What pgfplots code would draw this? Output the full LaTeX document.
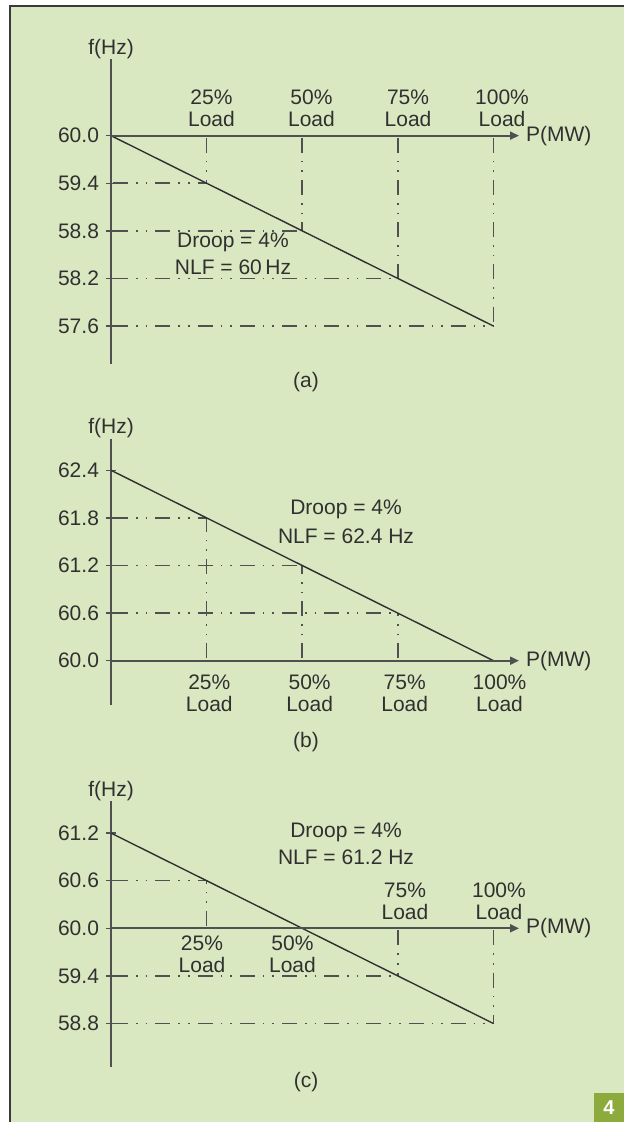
\documentclass[border=0pt]{standalone}
\usepackage{pgfplots}
\pgfplotsset{compat=1.18}
\usepackage{fontspec}
\setmainfont{Liberation Sans}
\usetikzlibrary{arrows.meta}
\definecolor{bg}{HTML}{DAE8C2}
\definecolor{frame}{HTML}{3A3A3A}
\definecolor{ink}{HTML}{303030}
\definecolor{axisgray}{HTML}{505050}
\definecolor{boxgreen}{HTML}{8CAB3C}
\newcommand{\lblfont}{\fontsize{10.5}{11}\selectfont}
\tikzset{
  lbl/.style={font=\lblfont, text=ink, align=center, inner sep=0pt},
  guide/.style={axisgray, line width=0.75pt, dash pattern=on 7.5pt off 4pt on 0.8pt off 4pt on 0.8pt off 4pt, dash phase=20pt},
  droop/.style={ink, line width=0.7pt},
}
\pgfplotsset{
  droopaxis/.style={
    x=1.912pt, y=39.667pt, anchor=south west,
    xmin=0, xmax=110,
    axis x line=none, axis y line=left,
    y axis line style={-, line width=0.9pt, color=axisgray},
    xtick=\empty,
    tick align=center, major tick length=5pt,
    tick style={axisgray, line width=0.7pt},
    yticklabel style={font=\lblfont, color=ink, /pgf/number format/.cd, fixed, fixed zerofill, precision=1, assume math mode=true},
    ylabel={f(Hz)},
    every axis y label/.style={at={(axis description cs:0,1)}, anchor=south, inner sep=0pt, font=\lblfont, color=ink},
    clip=false, no markers,
  },
}
\newcommand{\xaxisat}[1]{%
  \draw[axisgray, line width=0.9pt, -{Triangle[length=4.5pt,width=4pt]}] (axis cs:0,#1) -- (axis cs:106.7,#1);
  \node[font=\lblfont, text=ink, anchor=west] at (axis cs:106.7,#1) {P(MW)};
  \draw[axisgray, line width=0.7pt] (axis cs:25,#1) ++(0,-2.5pt) -- ++(0,5pt);
  \draw[axisgray, line width=0.7pt] (axis cs:50,#1) ++(0,-2.5pt) -- ++(0,5pt);
  \draw[axisgray, line width=0.7pt] (axis cs:75,#1) ++(0,-2.5pt) -- ++(0,5pt);
  \draw[axisgray, line width=0.7pt] (axis cs:100,#1) ++(0,-2.5pt) -- ++(0,5pt);
}
\begin{document}
\begin{tikzpicture}
\useasboundingbox (0,0) rectangle (312pt,-561pt);
\fill[white] (0,0) rectangle (312pt,-561pt);
\fill[bg] (5pt,-3pt) rectangle (312pt,-561pt);
\draw[frame, line width=1pt] (5pt,-561pt) -- (5pt,-3pt) -- (312pt,-3pt);
\fill[boxgreen] (297pt,-546.5pt) rectangle (312pt,-561pt);
\node[text=white, font=\bfseries\fontsize{10}{12}\selectfont] at (304.5pt,-553.75pt) {4};

% (a)
\begin{axis}[droopaxis, at={(55.5pt,-182pt)}, ymin=57.12, ymax=60.96,
  ytick={57.6,58.2,58.8,59.4,60.0}]
  \addplot[guide] coordinates {(0,59.4) (25,59.4)};
  \addplot[guide] coordinates {(0,58.8) (50,58.8)};
  \addplot[guide] coordinates {(0,58.2) (75,58.2)};
  \addplot[guide] coordinates {(0,57.6) (100,57.6)};
  \addplot[guide] coordinates {(25,60) (25,59.4)};
  \addplot[guide] coordinates {(50,60) (50,58.8)};
  \addplot[guide] coordinates {(75,60) (75,58.2)};
  \addplot[guide] coordinates {(100,60) (100,57.6)};
  \addplot[droop] coordinates {(0,60.0) (100,57.6)};
  \xaxisat{60}
  \node[lbl] at (axis cs:26.28,60.34) {25\%\\Load};
  \node[lbl] at (axis cs:52.43,60.34) {50\%\\Load};
  \node[lbl] at (axis cs:77.67,60.34) {75\%\\Load};
  \node[lbl] at (axis cs:102.25,60.34) {100\%\\Load};
  \node[lbl] at (axis cs:31.9,58.651) {Droop = 4\%};
  \node[lbl] at (axis cs:31.9,58.336) {NLF = 60\,Hz};
  \node[lbl] at (axis cs:51,56.899) {(a)};
\end{axis}

% (b)
\begin{axis}[droopaxis, at={(55.5pt,-352.5pt)}, ymin=59.44, ymax=62.80,
  ytick={60.0,60.6,61.2,61.8,62.4}]
  \addplot[guide] coordinates {(0,61.8) (25,61.8)};
  \addplot[guide] coordinates {(0,61.2) (50,61.2)};
  \addplot[guide] coordinates {(0,60.6) (75,60.6)};
  \addplot[guide] coordinates {(25,60) (25,61.8)};
  \addplot[guide] coordinates {(50,60) (50,61.2)};
  \addplot[guide] coordinates {(75,60) (75,60.6)};
  \addplot[droop] coordinates {(0,62.4) (100,60.0)};
  \xaxisat{60}
  \node[lbl] at (axis cs:25.71,59.584) {25\%\\Load};
  \node[lbl] at (axis cs:51.94,59.584) {50\%\\Load};
  \node[lbl] at (axis cs:76.8,59.584) {75\%\\Load};
  \node[lbl] at (axis cs:101.6,59.584) {100\%\\Load};
  \node[lbl] at (axis cs:61.45,61.903) {Droop = 4\%};
  \node[lbl] at (axis cs:61.45,61.563) {NLF = 62.4 Hz};
  \node[lbl] at (axis cs:51,58.979) {(b)};
\end{axis}

% (c)
\begin{axis}[droopaxis, at={(55.5pt,-533.5pt)}, ymin=58.25, ymax=61.60,
  ytick={58.8,59.4,60.0,60.6,61.2}]
  \addplot[guide] coordinates {(0,60.6) (25,60.6)};
  \addplot[guide] coordinates {(0,59.4) (75,59.4)};
  \addplot[guide] coordinates {(0,58.8) (100,58.8)};
  \addplot[guide] coordinates {(25,60) (25,60.6)};
  \addplot[guide] coordinates {(75,60) (75,59.4)};
  \addplot[guide] coordinates {(100,60) (100,58.8)};
  \addplot[droop] coordinates {(0,61.2) (100,58.8)};
  \xaxisat{60}
  \node[lbl] at (axis cs:23.8,59.676) {25\%\\Load};
  \node[lbl] at (axis cs:47.46,59.676) {50\%\\Load};
  \node[lbl] at (axis cs:76.88,60.344) {75\%\\Load};
  \node[lbl] at (axis cs:101.46,60.344) {100\%\\Load};
  \node[lbl] at (axis cs:61.45,61.214) {Droop = 4\%};
  \node[lbl] at (axis cs:61.45,60.899) {NLF = 61.2 Hz};
  \node[lbl] at (axis cs:51,58.066) {(c)};
\end{axis}
\end{tikzpicture}
\end{document}
